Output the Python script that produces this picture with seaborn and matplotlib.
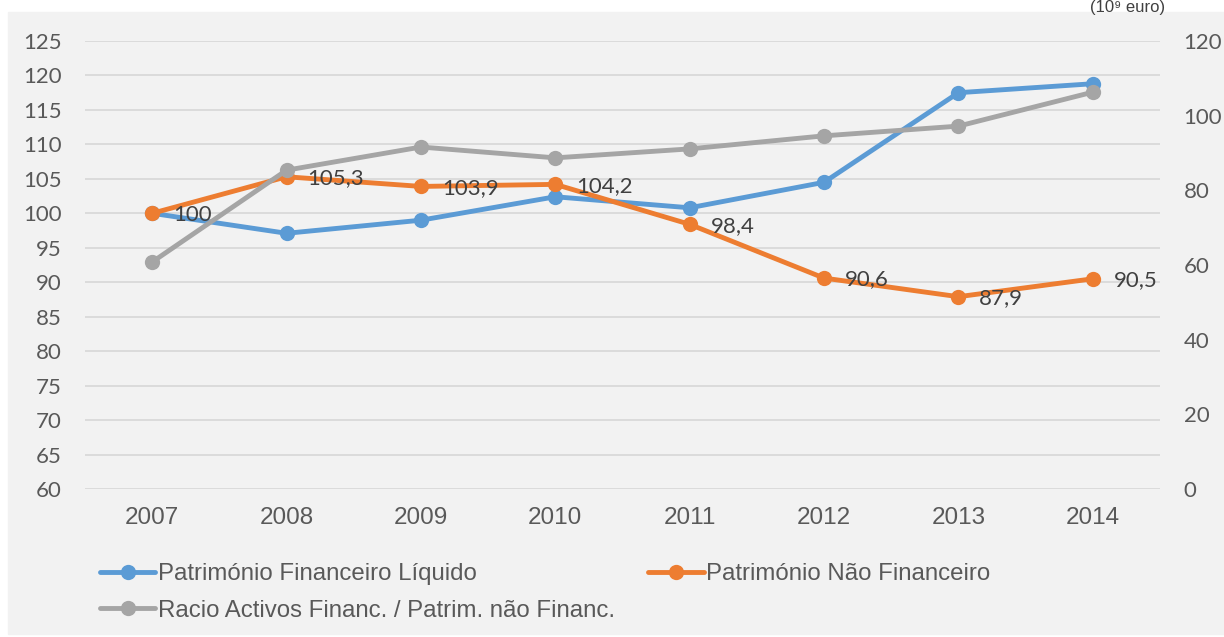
import numpy as np
import pandas as pd
import matplotlib
matplotlib.use("Agg")
import matplotlib.pyplot as plt
import seaborn as sns
from matplotlib.patches import Rectangle

years = ["2007", "2008", "2009", "2010", "2011", "2012", "2013", "2014"]
pfl = [100, 97.1, 99.0, 102.4, 100.8, 104.5, 117.5, 118.8]          # Património Financeiro Líquido
pnf = [100, 105.3, 103.9, 104.2, 98.4, 90.6, 87.9, 90.5]            # Património Não Financeiro
racio = [60.8, 85.4, 91.6, 88.7, 91.1, 94.6, 97.2, 106.3]           # Racio (eixo direito)
pnf_labels = ["100", "105,3", "103,9", "104,2", "98,4", "90,6", "87,9", "90,5"]

names = ["Património Financeiro Líquido", "Património Não Financeiro",
         "Racio Activos Financ. / Patrim. não Financ."]
colors = ["#5b9bd5", "#ed7d31", "#a5a5a5"]

sns.set_style("white")
plt.rcParams['font.family'] = ['Lato', 'DejaVu Sans']
arial = ['Liberation Sans', 'DejaVu Sans']

df = pd.DataFrame({"ano": years, "pfl": pfl, "pnf": pnf, "racio": racio})

fig = plt.figure(figsize=(12.24, 6.37), dpi=100)
fig.patches.append(Rectangle((8 / 1224, 0.004), 1, 1 - 12 / 637 - 0.004,
                             transform=fig.transFigure, color="#f2f2f2", zorder=-5))

ax = fig.add_axes([85 / 1224, 1 - 489 / 637, (1160 - 85) / 1224, (489 - 41) / 637])
ax.set_facecolor("none")
ax2 = ax.twinx()
ax2.set_facecolor("none")

lw, ms = 3.5, 11
sns.lineplot(data=df, x="ano", y="pfl", ax=ax, color=colors[0], marker="o", lw=lw,
             markersize=ms, markeredgewidth=0, sort=False)
sns.lineplot(data=df, x="ano", y="pnf", ax=ax, color=colors[1], marker="o", lw=lw,
             markersize=ms, markeredgewidth=0, sort=False)
sns.lineplot(data=df, x="ano", y="racio", ax=ax2, color=colors[2], marker="o", lw=lw,
             markersize=ms, markeredgewidth=0, sort=False)

for i, lab in enumerate(pnf_labels):
    ax.annotate(lab, (i, pnf[i]), xytext=(15, -1), textcoords="offset points",
                ha="left", va="center", fontsize=16, color="#404040")

ax.set_xlim(-0.5, len(years) - 0.5)
ax.set_ylim(60, 125)
ax.set_yticks(range(60, 126, 5))
ax2.set_ylim(0, 120)
ax2.set_yticks(range(0, 121, 20))

ax.grid(axis="y", color="#d9d9d9", lw=1.3)
ax.set_axisbelow(True)
for a in (ax, ax2):
    for s in a.spines.values():
        s.set_visible(False)
    a.set_xlabel("")
    a.set_ylabel("")
ax.tick_params(axis="y", length=0, pad=17, labelsize=16, labelcolor="#595959")
ax.tick_params(axis="x", length=0, pad=13, labelsize=17.5, labelcolor="#595959")
for t in ax.get_xticklabels():
    t.set_family(arial)
ax2.tick_params(axis="y", length=0, pad=17, labelsize=16, labelcolor="#595959")

handles = [plt.Line2D([], [], color=c, lw=lw, marker="o", markersize=ms, markeredgewidth=0)
           for c in colors]
order = [0, 2, 1]
fig.legend([handles[i] for i in order], [names[i] for i in order], ncol=2,
           loc="upper left", bbox_to_anchor=(100 / 1224, 1 - 563 / 637), frameon=False,
           borderpad=0, borderaxespad=0, prop={"family": arial, "size": 17.3},
           handlelength=2.3, handletextpad=0.1, columnspacing=1.4,
           labelspacing=0.62, labelcolor="#595959")

fig.text(1128 / 1224, 1.0, "(10⁹ euro)", ha="center", va="top", fontsize=12,
         color="#404040", family=arial)

fig.savefig("out.png", dpi=100)
